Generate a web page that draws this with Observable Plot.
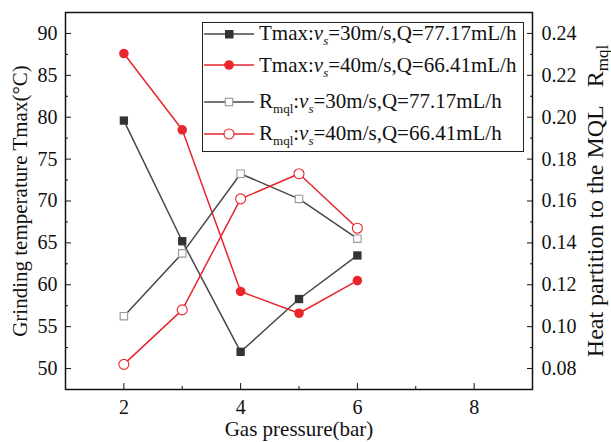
<!DOCTYPE html>
<html>
<head>
<meta charset="utf-8">
<script src="https://cdn.jsdelivr.net/npm/d3@7"></script>
<script src="https://cdn.jsdelivr.net/npm/@observablehq/plot@0.6"></script>
<style>
  body { margin: 0; background: #fff; }
  #wrap { position: relative; width: 611px; height: 442px; font-family: "Liberation Serif", "Times New Roman", serif; color: #111; }
  #wrap svg.plot { position: absolute; left: 0; top: 0; }
  #legend { position: absolute; left: 202px; top: 22px; width: 322px; height: 130px; border: 1.6px solid #222; box-sizing: border-box; background: #fff; }
  .row { position: absolute; left: 1px; height: 30px; display: flex; align-items: center; font-size: 21px; white-space: nowrap; color: #111; }
  .row svg { flex: none; margin-right: 3px; }
  .sub { font-size: 0.62em; vertical-align: -0.38em; line-height: 0; }
</style>
</head>
<body>
<div id="wrap"></div>
<script>
// ---- data ----
const pressure = [2, 3, 4, 5, 6];
const tmax30 = [79.6, 65.2, 52.0, 58.3, 63.5];
const tmax40 = [87.6, 78.5, 59.2, 56.6, 60.5];
const rmql30 = [0.105, 0.135, 0.173, 0.161, 0.142];
const rmql40 = [0.082, 0.108, 0.161, 0.173, 0.147];

const xMajor = [2, 4, 6, 8];
const xMinor = [3, 5, 7];
const yMajor = [50, 55, 60, 65, 70, 75, 80, 85, 90];
const yMinor = [52.5, 57.5, 62.5, 67.5, 72.5, 77.5, 82.5, 87.5];
const rMajor = [0.08, 0.10, 0.12, 0.14, 0.16, 0.18, 0.20, 0.22, 0.24];
const rMinor = [0.09, 0.11, 0.13, 0.15, 0.17, 0.19, 0.21, 0.23];

const xTitle = "Gas pressure(bar)";
const yTitle = "Grinding temperature Tmax(°C)";
const rTitle = "Heat partition to the MQL\u00a0\u00a0\u00a0R";
const rTitleSub = "mql";

const legendLabels = [
  'Tmax:<i>v</i><span class="sub"><i>s</i></span>=30m/s,Q=77.17mL/h',
  'Tmax:<i>v</i><span class="sub"><i>s</i></span>=40m/s,Q=66.41mL/h',
  'R<span class="sub">mql</span>:<i>v</i><span class="sub"><i>s</i></span>=30m/s,Q=77.17mL/h',
  'R<span class="sub">mql</span>:<i>v</i><span class="sub"><i>s</i></span>=40m/s,Q=66.41mL/h'
];

const dark = "#474747", darkFill = "#333333", red = "#e8262d", lightGray = "#999999";

// right axis (Rmql) mapped onto left (T) scale
const toT = r => 50 + (r - 0.08) / 0.004;
const toR = t => 0.08 + (t - 50) * 0.004;

const rows = pressure.map((p, i) => ({
  p, t30: tmax30[i], t40: tmax40[i], r30: toT(rmql30[i]), r40: toT(rmql40[i])
}));

const plot = Plot.plot({
  width: 611,
  height: 442,
  marginLeft: 65,
  marginRight: 79,
  marginTop: 12,
  marginBottom: 53,
  x: {domain: [1, 9]},
  y: {domain: [47.5, 92.5]},
  style: {fontFamily: '"Liberation Serif", "Times New Roman", serif', fontSize: "20px", color: "#111", background: "white", overflow: "visible"},
  marks: [
    // x ticks (inside)
    Plot.axisX(xMajor, {tickSize: 6, dy: -6, fill: "none", label: null}),
    Plot.axisX(xMinor, {tickSize: 3, dy: -3, fill: "none", label: null}),
    Plot.axisX(xMajor, {tickSize: 0, tickPadding: 10, label: null, tickFormat: d => String(d)}),
    // left y
    Plot.axisY(yMajor, {anchor: "left", tickSize: 6, dx: 6, fill: "none", label: null}),
    Plot.axisY(yMinor, {anchor: "left", tickSize: 3, dx: 3, fill: "none", label: null}),
    Plot.axisY(yMajor, {anchor: "left", tickSize: 0, tickPadding: 8, label: null, tickFormat: d => String(d)}),
    // right y (Rmql)
    Plot.axisY(rMajor.map(toT), {anchor: "right", tickSize: 6, dx: -6, fill: "none", label: null}),
    Plot.axisY(rMinor.map(toT), {anchor: "right", tickSize: 3, dx: -3, fill: "none", label: null}),
    Plot.axisY(rMajor.map(toT), {anchor: "right", tickSize: 0, tickPadding: 9, label: null, tickFormat: t => d3.format(".2f")(toR(t))}),
    // lines
    Plot.line(rows, {x: "p", y: "t30", stroke: dark, strokeWidth: 1.5}),
    Plot.line(rows, {x: "p", y: "t40", stroke: red, strokeWidth: 1.5}),
    Plot.line(rows, {x: "p", y: "r30", stroke: dark, strokeWidth: 1.5}),
    Plot.line(rows, {x: "p", y: "r40", stroke: red, strokeWidth: 1.5}),
    // markers
    Plot.dot(rows, {x: "p", y: "t30", symbol: "square", r: 4.7, fill: darkFill}),
    Plot.dot(rows, {x: "p", y: "t40", symbol: "circle", r: 4.8, fill: red}),
    Plot.dot(rows, {x: "p", y: "r30", symbol: "square", r: 4.2, fill: "white", stroke: lightGray, strokeWidth: 1.1}),
    Plot.dot(rows, {x: "p", y: "r40", symbol: "circle", r: 5, fill: "white", stroke: red, strokeWidth: 1.1}),
    // frame
    Plot.frame({stroke: "#111", strokeWidth: 1.5}),
    // titles
    Plot.text([xTitle], {text: d => d, frameAnchor: "bottom", dy: 40, fontSize: 21, textAnchor: "middle", lineAnchor: "middle"}),
    Plot.text([yTitle], {text: d => d, frameAnchor: "left", dx: -45, rotate: -90, fontSize: 21, textAnchor: "middle", lineAnchor: "middle"}),
    Plot.text([rTitle], {text: d => d, frameAnchor: "right", dx: 63, rotate: -90, fontSize: 24, textAnchor: "middle", lineAnchor: "middle"})
  ]
});
plot.classList.add("plot");

// add subscript to the right axis title
plot.querySelectorAll("text").forEach(t => {
  if (t.textContent === rTitle) {
    const sub = document.createElementNS("http://www.w3.org/2000/svg", "tspan");
    sub.setAttribute("font-size", "17");
    sub.setAttribute("dy", "5");
    sub.textContent = rTitleSub;
    t.appendChild(sub);
  }
});

const wrap = document.getElementById("wrap");
wrap.appendChild(plot);

// legend
const legendGlyphs = [
  {stroke: dark, marker: `<rect x="21" y="4" width="8.5" height="8.5" fill="${darkFill}"/>`},
  {stroke: red, marker: `<circle cx="25" cy="8" r="4.8" fill="${red}"/>`},
  {stroke: dark, marker: `<rect x="21.3" y="4.3" width="7.4" height="7.4" fill="white" stroke="${lightGray}" stroke-width="1.1"/>`},
  {stroke: red, marker: `<circle cx="25" cy="8" r="5" fill="white" stroke="${red}" stroke-width="1.1"/>`}
];
const rowCenters = [10.5, 42, 78.5, 110.5];
const legend = document.createElement("div");
legend.id = "legend";
legendLabels.forEach((lab, i) => {
  const row = document.createElement("div");
  row.className = "row";
  row.style.top = (rowCenters[i] - 15) + "px";
  const g = legendGlyphs[i];
  row.innerHTML = `<svg width="52" height="16"><line x1="0" y1="8" x2="50" y2="8" stroke="${g.stroke}" stroke-width="1.5"/>${g.marker}</svg><span>${lab}</span>`;
  legend.appendChild(row);
});
wrap.appendChild(legend);
</script>
</body>
</html>
